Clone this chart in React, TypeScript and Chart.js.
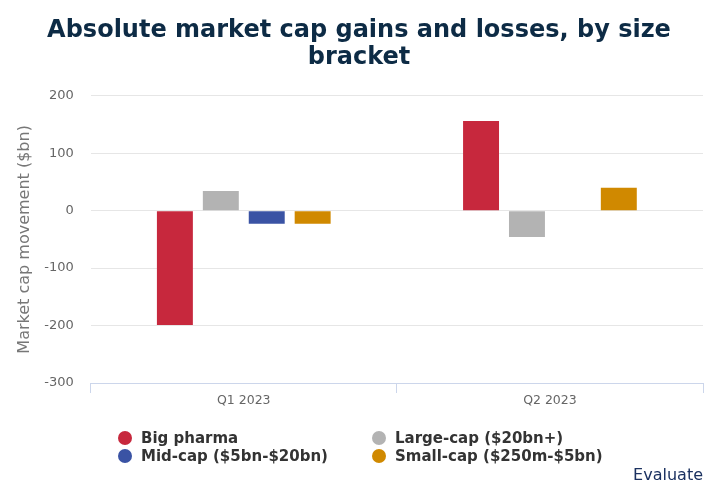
import React, { useEffect, useRef } from "react";
import { Chart, registerables } from "chart.js";

Chart.register(...registerables);

const categories = ["Q1 2023", "Q2 2023"];
const seriesNames = ["Big pharma", "Large-cap ($20bn+)", "Mid-cap ($5bn-$20bn)", "Small-cap ($250m-$5bn)"];
const bigPharma = [-199, 156];
const largeCap = [34, -46];
const midCap: (number | null)[] = [-23, null];
const smallCap = [-23, 40];
const seriesColors = ["#c7283d", "#b3b3b3", "#3a53a4", "#d08900"];
const yTicks = [-300, -200, -100, 0, 100, 200];
const titleLines = ["Absolute market cap gains and losses, by size", "bracket"];
const yTitle = "Market cap movement ($bn)";

export default function App() {
  const ref = useRef<HTMLCanvasElement | null>(null);
  useEffect(() => {
    if (!ref.current) return;
    const values = [bigPharma, largeCap, midCap, smallCap];
    const chart = new Chart(ref.current, {
      type: "bar",
      data: {
        labels: categories,
        datasets: seriesNames.map((n, i) => ({
          label: n,
          data: values[i],
          backgroundColor: seriesColors[i],
          borderWidth: 0,
          categoryPercentage: 0.6,
          barPercentage: 0.783,
        })),
      },
      options: {
        responsive: true,
        maintainAspectRatio: false,
        animation: false,
        devicePixelRatio: 1,
        layout: { padding: { left: 15, right: 12, top: 0, bottom: 89 } },
        plugins: {
          legend: { display: false },
          tooltip: { enabled: false },
          title: {
            display: true,
            text: titleLines,
            color: "#0d2b45",
            font: { family: "'DejaVu Sans', sans-serif", size: 24, weight: "bold", lineHeight: 1.12 },
            padding: { top: 17, bottom: 25 },
          },
        },
        scales: {
          x: {
            offset: true,
            border: { display: true, color: "#ccd6eb", width: 1 },
            grid: { offset: true, drawOnChartArea: false, drawTicks: true, tickLength: 10, color: "#ccd6eb" },
            ticks: { color: "#666666", font: { family: "'DejaVu Sans', sans-serif", size: 12.5 }, padding: 0 },
          },
          y: {
            min: yTicks[0],
            max: yTicks[yTicks.length - 1],
            afterBuildTicks: (axis: any) => {
              axis.ticks = yTicks.map((v) => ({ value: v }));
            },
            border: { display: false },
            grid: { color: "#e6e6e6", drawTicks: false },
            ticks: {
              color: "#666666",
              font: { family: "'DejaVu Sans', sans-serif", size: 13 },
              padding: 17,
            },
            title: {
              display: true,
              text: yTitle,
              color: "#777777",
              font: { family: "'DejaVu Sans', sans-serif", size: 16 },
              padding: { top: 0, bottom: -7 },
            },
          },
        },
      },
    });
    return () => chart.destroy();
  }, []);

  const legendFont = "'DejaVu Sans', sans-serif";
  const item = (i: number, left: number, top: number) => (
    <div key={i} style={{ position: "absolute", left, top, display: "flex", alignItems: "center", height: 18 }}>
      <span style={{ width: 14, height: 14, borderRadius: 7, background: seriesColors[i], display: "inline-block", marginRight: 9 }} />
      <span style={{ fontFamily: legendFont, fontWeight: "bold", fontSize: 15, color: "#333333", whiteSpace: "nowrap" }}>{seriesNames[i]}</span>
    </div>
  );

  return (
    <div style={{ position: "absolute", left: 0, top: 0, width: 715, height: 497, background: "#ffffff", overflow: "hidden" }}>
      <canvas ref={ref} width={715} height={497} style={{ position: "absolute", left: 0, top: 0, width: 715, height: 497 }} />
      {item(0, 118, 429)}
      {item(1, 372, 429)}
      {item(2, 118, 447)}
      {item(3, 372, 447)}
      <div style={{ position: "absolute", right: 12, top: 465, fontFamily: "'DejaVu Sans', sans-serif", fontSize: 16, color: "#1b3160" }}>Evaluate</div>
    </div>
  );
}
